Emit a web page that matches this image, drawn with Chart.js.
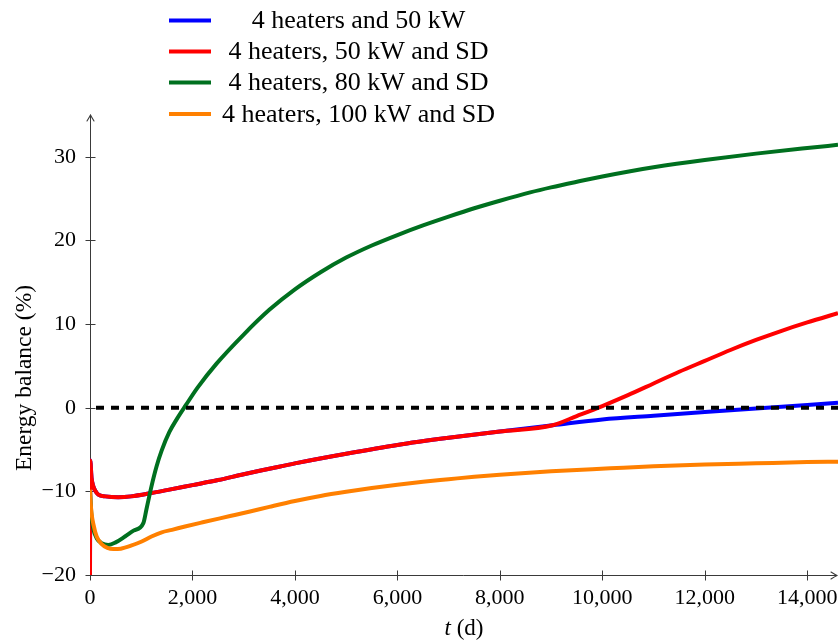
<!DOCTYPE html>
<html>
<head>
<meta charset="utf-8">
<script src="https://cdn.jsdelivr.net/npm/chart.js@4/dist/chart.umd.min.js"></script>
<style>
  html, body { margin: 0; padding: 0; background: #ffffff; }
  #wrap { width: 838px; height: 643px; }
</style>
</head>
<body>
<div id="wrap"><canvas id="c" width="838" height="643"></canvas></div>
<script>
// Series names (legend order)
const seriesLabels = [
  '4 heaters and 50 kW',
  '4 heaters, 50 kW and SD',
  '4 heaters, 80 kW and SD',
  '4 heaters, 100 kW and SD'
];
const seriesColors = ['#0000ff', '#ff0000', '#00701f', '#ff8000'];

// Common part of the two 50 kW runs (time in days, energy balance in %)
const t50common = [0, 5, 30, 65, 100, 163, 300, 550, 800, 1200, 1500, 2000, 2500, 3000, 3500, 4000, 5000, 6000, 7000, 8000, 9030];
const e50common = [-20, -6.3, -8.4, -9.4, -9.9, -10.4, -10.6, -10.7, -10.6, -10.2, -9.85, -9.25, -8.65, -7.95, -7.3, -6.65, -5.5, -4.45, -3.6, -2.85, -2.1];

// 4 heaters and 50 kW, after 9030 d
const tBlueTail = [10000, 11000, 12000, 13000, 14000, 14600];
const eBlueTail = [-1.4, -0.95, -0.52, -0.1, 0.33, 0.6];

// 4 heaters, 50 kW and SD, after 9030 d
const tRedTail = [9500, 10000, 10500, 11000, 11500, 12000, 12500, 13000, 13500, 14000, 14600];
const eRedTail = [-1.0, 0.2, 1.5, 2.9, 4.3, 5.6, 6.9, 8.1, 9.2, 10.2, 11.3];

// 4 heaters, 80 kW and SD
const tGreen = [0, 30, 65, 130, 228, 357, 500, 683, 850, 1041, 1100, 1200, 1300, 1400, 1550, 1700, 1870, 2100, 2474, 3000, 3500, 4000, 4500, 5000, 5500, 6000, 6500, 7000, 7500, 8000, 8592, 9000, 9568, 10000, 10545, 11000, 12000, 13000, 14000, 14600];
const eGreen = [-10, -13, -14.5, -15.6, -16.2, -16.4, -16.1, -15.4, -14.7, -13.8, -12.2, -9.4, -7.0, -5.1, -2.9, -1.3, 0.3, 2.4, 5.3, 8.75, 11.7, 14.15, 16.2, 17.95, 19.4, 20.65, 21.8, 22.85, 23.85, 24.75, 25.75, 26.35, 27.1, 27.65, 28.28, 28.75, 29.62, 30.38, 31.05, 31.43];

// 4 heaters, 100 kW and SD
const tOrange = [0, 15, 30, 65, 130, 228, 340, 455, 600, 800, 1009, 1200, 1400, 1600, 1855, 2200, 2734, 3124, 3500, 4000, 4500, 5000, 5500, 6000, 6500, 7000, 7500, 8000, 9000, 10154, 11000, 12000, 13000, 14000, 14600];
const eOrange = [-9.8, -11.5, -12.6, -13.9, -15.4, -16.3, -16.75, -16.9, -16.85, -16.5, -16.0, -15.4, -14.9, -14.6, -14.2, -13.7, -12.95, -12.4, -11.85, -11.15, -10.55, -10.05, -9.6, -9.2, -8.85, -8.55, -8.25, -8.0, -7.6, -7.25, -7.0, -6.8, -6.65, -6.5, -6.45];

// Zero reference line
const tZero = [0, 14600];
const eZero = [0, 0];

// Axis ranges and ticks
const xRange = [0, 14600];
const yRange = [-20, 35];
const xTickValues = [0, 2000, 4000, 6000, 8000, 10000, 12000, 14000];
const yTickValues = [-20, -10, 0, 10, 20, 30];

const xTitle = ['t', ' (d)'];
const yTitle = 'Energy balance (%)';

const pts = (xs, ys) => xs.map((x, i) => ({ x: x, y: ys[i] }));

const blueData = pts(t50common.concat(tBlueTail), e50common.concat(eBlueTail));
const redData = pts(t50common.concat(tRedTail), e50common.concat(eRedTail));
const greenData = pts(tGreen, eGreen);
const orangeData = pts(tOrange, eOrange);
const zeroData = pts(tZero, eZero);

// Pick the first serif face the system actually has, else a plain sans face
function hasFont(name) {
  const c = document.createElement('canvas').getContext('2d');
  const s = 'abcdefghijklmnopqrstuvwxyz ABCDEFGHIJKLMNOPQRSTUVWXYZ 0123456789';
  c.font = '40px monospace';
  const w0 = c.measureText(s).width;
  c.font = '40px "' + name + '", monospace';
  return c.measureText(s).width !== w0;
}
const serifCandidates = ['Liberation Serif', 'Tinos', 'Times New Roman', 'Nimbus Roman', 'FreeSerif', 'Noto Serif', 'DejaVu Serif'];
const serifFound = serifCandidates.find(hasFont);
const FACE = serifFound ? '"' + serifFound + '", serif' : '"Liberation Sans", "DejaVu Sans", sans-serif';

function lineSet(label, data, color, order) {
  return {
    label: label,
    data: data,
    borderColor: color,
    backgroundColor: color,
    borderWidth: 4,
    pointRadius: 0,
    fill: false,
    cubicInterpolationMode: 'monotone',
    order: order
  };
}

// Axes with crossing tick marks and arrow heads
const axesPlugin = {
  id: 'axesPlugin',
  beforeDatasetsDraw(chart) {
    const ctx = chart.ctx;
    const a = chart.chartArea;
    const xs = chart.scales.x, ys = chart.scales.y;
    const x0 = Math.round(a.left) + 0.5;
    const y0 = Math.round(a.bottom) + 0.5;
    ctx.save();
    ctx.strokeStyle = '#3a3a3a';
    ctx.lineWidth = 1;
    ctx.beginPath();
    ctx.moveTo(x0, y0);
    ctx.lineTo(chart.width - 1, y0);
    ctx.moveTo(x0, y0);
    ctx.lineTo(x0, a.top);
    ctx.stroke();
    // ticks
    ctx.beginPath();
    xTickValues.forEach(v => {
      const px = Math.round(xs.getPixelForValue(v)) + 0.5;
      ctx.moveTo(px, y0 - 5);
      ctx.lineTo(px, y0 + 5);
    });
    yTickValues.forEach(v => {
      const py = Math.round(ys.getPixelForValue(v)) + 0.5;
      ctx.moveTo(x0 - 5, py);
      ctx.lineTo(x0 + 5, py);
    });
    ctx.stroke();
    // arrow heads
    ctx.lineWidth = 1.1;
    ctx.lineCap = 'round';
    ctx.beginPath();
    ctx.moveTo(x0 - 3.5, a.top + 6);
    ctx.quadraticCurveTo(x0 - 1, a.top + 2, x0, a.top);
    ctx.quadraticCurveTo(x0 + 1, a.top + 2, x0 + 3.5, a.top + 6);
    const xe = chart.width - 1;
    ctx.moveTo(xe - 6, y0 - 3.5);
    ctx.quadraticCurveTo(xe - 2, y0 - 1, xe, y0);
    ctx.quadraticCurveTo(xe - 2, y0 + 1, xe - 6, y0 + 3.5);
    ctx.stroke();
    ctx.restore();
  }
};

// Axis titles and legend
const textPlugin = {
  id: 'textPlugin',
  afterDraw(chart) {
    const ctx = chart.ctx;
    const a = chart.chartArea;
    ctx.save();
    ctx.fillStyle = '#000';
    // y title
    ctx.font = '23.5px ' + FACE;
    ctx.textAlign = 'center';
    ctx.textBaseline = 'middle';
    ctx.save();
    ctx.translate(25, 378);
    ctx.rotate(-Math.PI / 2);
    ctx.fillText(yTitle, 0, 0);
    ctx.restore();
    // x title: italic variable plus unit
    ctx.textAlign = 'left';
    ctx.font = 'italic 23px ' + FACE;
    const w1 = ctx.measureText(xTitle[0]).width;
    ctx.font = '23px ' + FACE;
    const w2 = ctx.measureText(xTitle[1]).width;
    const cx = (a.left + chart.width) / 2;
    const sx = cx - (w1 + w2) / 2;
    ctx.font = 'italic 23px ' + FACE;
    ctx.fillText(xTitle[0], sx, 629);
    ctx.font = '23px ' + FACE;
    ctx.fillText(xTitle[1], sx + w1, 629);
    // legend
    const rows = [20.5, 51.5, 82.5, 114];
    ctx.font = '26px ' + FACE;
    ctx.textAlign = 'center';
    seriesLabels.forEach((lab, i) => {
      ctx.strokeStyle = seriesColors[i];
      ctx.lineWidth = 4;
      ctx.beginPath();
      ctx.moveTo(169, rows[i]);
      ctx.lineTo(211, rows[i]);
      ctx.stroke();
      ctx.fillText(lab, 358.5, rows[i] + 1);
    });
    ctx.restore();
  }
};

const fmtX = v => Number(v).toLocaleString('en-US');
const fmtY = v => (v < 0 ? '\u2212' + Math.abs(v) : String(v));

new Chart(document.getElementById('c'), {
  type: 'line',
  data: {
    datasets: [
      Object.assign(lineSet('zero', zeroData, '#000000', 0), { borderDash: [8, 7], borderDashOffset: 9, cubicInterpolationMode: 'default', tension: 0 }),
      lineSet(seriesLabels[3], orangeData, seriesColors[3], 1),
      lineSet(seriesLabels[2], greenData, seriesColors[2], 2),
      lineSet(seriesLabels[1], redData, seriesColors[1], 3),
      lineSet(seriesLabels[0], blueData, seriesColors[0], 4)
    ]
  },
  options: {
    responsive: false,
    animation: false,
    devicePixelRatio: 1,
    layout: { padding: { top: 115, left: 0, right: 0, bottom: 0 } },
    plugins: {
      legend: { display: false },
      tooltip: { enabled: false },
      title: { display: false }
    },
    scales: {
      x: {
        type: 'linear',
        min: xRange[0],
        max: xRange[1],
        grid: { display: false, drawTicks: false },
        border: { display: false },
        afterBuildTicks: s => { s.ticks = xTickValues.map(v => ({ value: v })); },
        afterFit: s => { s.height = 68; s.paddingLeft = 0; s.paddingRight = 0; },
        ticks: {
          color: '#000',
          font: { family: FACE, size: 22 },
          padding: 10,
          maxRotation: 0,
          autoSkip: false,
          callback: fmtX
        }
      },
      y: {
        type: 'linear',
        min: yRange[0],
        max: yRange[1],
        grid: { display: false, drawTicks: false },
        border: { display: false },
        afterBuildTicks: s => { s.ticks = yTickValues.map(v => ({ value: v })); },
        afterFit: s => { s.width = 90; s.paddingTop = 0; s.paddingBottom = 0; },
        ticks: {
          color: '#000',
          font: { family: FACE, size: 22 },
          padding: 14,
          autoSkip: false,
          callback: fmtY
        }
      }
    }
  },
  plugins: [axesPlugin, textPlugin]
});
</script>
</body>
</html>
